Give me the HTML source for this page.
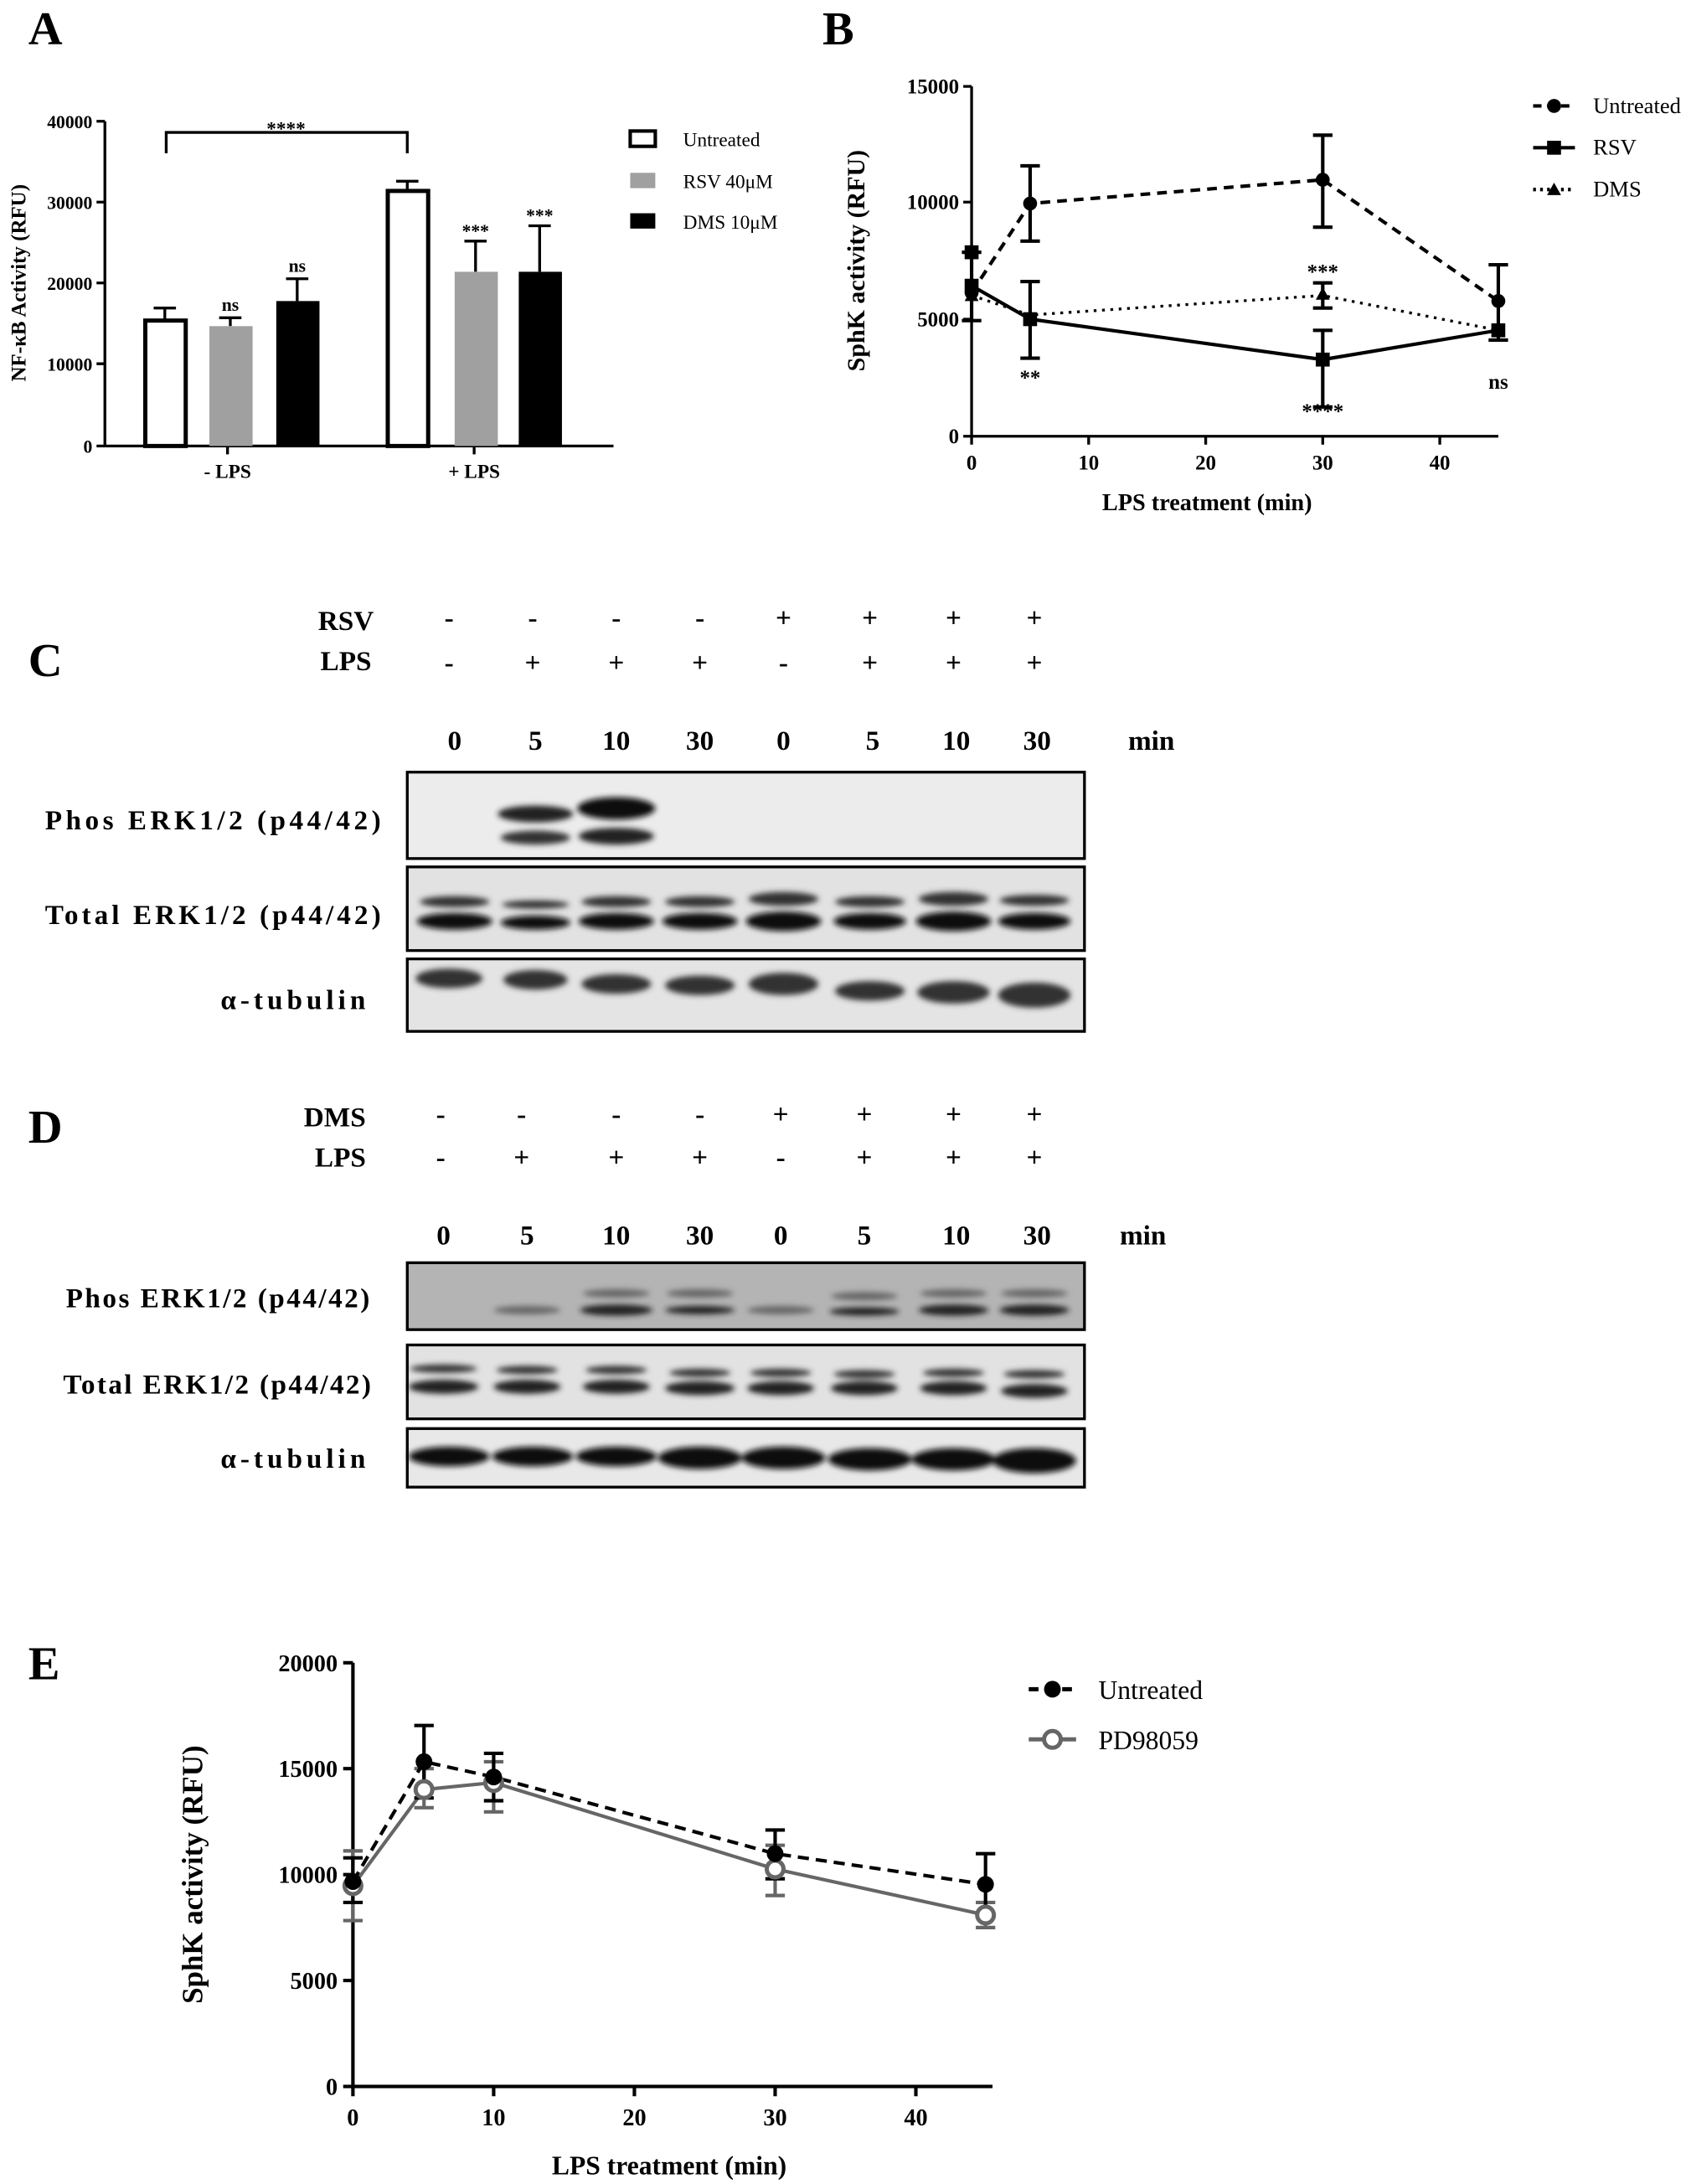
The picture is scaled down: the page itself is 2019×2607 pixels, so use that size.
<!DOCTYPE html>
<html><head><meta charset="utf-8"><style>
html,body{margin:0;padding:0;background:#fff;}
svg{display:block;}
text{font-family:"Liberation Serif",serif;fill:#000;}
</style></head><body>
<svg width="2019" height="2607" viewBox="0 0 1213 1567" xmlns="http://www.w3.org/2000/svg">
<defs>
<filter id="bl" x="-20%" y="-100%" width="140%" height="300%"><feGaussianBlur stdDeviation="2"/></filter>
</defs>
<g font-weight="bold">
<text x="20" y="32" font-size="34">A</text>
<text x="590" y="32" font-size="34">B</text>
<text x="20" y="485" font-size="34">C</text>
<text x="20" y="820" font-size="34">D</text>
<text x="20" y="1205" font-size="34">E</text>
</g>

<!-- Panel A -->
<g stroke="#000" stroke-width="2" fill="none">
<path d="M75 87 V320 H440"/>
<path d="M69 87H75M69 145H75M69 203H75M69 261H75M69 320H75"/>
<path d="M163 320v6M340 320v6"/>
<path d="M119 110V95H292V110"/>
</g>
<g font-size="13" font-weight="bold" text-anchor="end">
<text x="66" y="92">40000</text><text x="66" y="150">30000</text><text x="66" y="208">20000</text><text x="66" y="266">10000</text><text x="66" y="325">0</text>
</g>
<text transform="translate(18,203) rotate(-90)" font-size="15" font-weight="bold" text-anchor="middle">NF-κB Activity (RFU)</text>
<text x="163" y="343" font-size="14" font-weight="bold" text-anchor="middle">- LPS</text>
<text x="340" y="343" font-size="14" font-weight="bold" text-anchor="middle">+ LPS</text>
<text x="205" y="97" font-size="14" font-weight="bold" text-anchor="middle">****</text>
<g stroke="#000" stroke-width="2">
<path d="M118 230V221M110 221h16M165 234V228M157 228h16M213 216V200M205 200h16M292 137V130M284 130h16M341 195V173M333 173h16M387 195V162M379 162h16"/>
</g>
<rect x="104" y="230" width="29" height="90" fill="#fff" stroke="#000" stroke-width="3"/>
<rect x="150" y="234" width="31" height="86" fill="#a0a0a0"/>
<rect x="198" y="216" width="31" height="104" fill="#000"/>
<rect x="278" y="137" width="29" height="183" fill="#fff" stroke="#000" stroke-width="3"/>
<rect x="326" y="195" width="31" height="125" fill="#a0a0a0"/>
<rect x="372" y="195" width="31" height="125" fill="#000"/>
<g font-size="13" font-weight="bold" text-anchor="middle">
<text x="165" y="223">ns</text><text x="213" y="195">ns</text><text x="341" y="170">***</text><text x="387" y="159">***</text>
</g>
<rect x="452" y="94" width="18" height="11" fill="#fff" stroke="#000" stroke-width="2.5"/>
<rect x="452" y="124" width="18" height="11" fill="#a0a0a0"/>
<rect x="452" y="153" width="18" height="11" fill="#000"/>
<g font-size="14"><text x="490" y="105">Untreated</text><text x="490" y="135">RSV 40μM</text><text x="490" y="164">DMS 10μM</text></g>

<!-- Panel B -->
<g stroke="#000" stroke-width="2" fill="none">
<path d="M697 62V313H1075"/>
<path d="M691 62H697M691 145H697M691 229H697M691 313H697"/>
<path d="M697 313v6M781 313v6M865 313v6M949 313v6M1033 313v6"/>
</g>
<g font-size="15" font-weight="bold" text-anchor="end"><text x="688" y="67">15000</text><text x="688" y="150">10000</text><text x="688" y="234">5000</text><text x="688" y="318">0</text></g>
<g font-size="15" font-weight="bold" text-anchor="middle"><text x="697" y="337">0</text><text x="781" y="337">10</text><text x="865" y="337">20</text><text x="949" y="337">30</text><text x="1033" y="337">40</text></g>
<text x="866" y="366" font-size="17" font-weight="bold" text-anchor="middle">LPS treatment (min)</text>
<text transform="translate(620,187) rotate(-90)" font-size="18" font-weight="bold" text-anchor="middle">SphK activity (RFU)</text>
<g stroke="#000" stroke-width="2.5" fill="none">
<path d="M697 210L739 146L949 129L1075 216" stroke-dasharray="7,5"/>
<path d="M697 212L739 226L949 212L1075 237" stroke-dasharray="2,4" stroke-width="2"/>
<path d="M697 205L739 229L949 258L1075 237"/>
<path d="M739 119V173M732 119h14M732 173h14M949 97V163M942 97h14M942 163h14M1075 190V244M1068 190h14M1068 244h14M739 202V257M732 202h14M732 257h14M949 237V292M942 237h14M942 292h14M949 203V221M942 203h14M942 221h14M697 181V230M690 181h14M690 230h14"/>
</g>
<circle cx="739" cy="146" r="5"/><circle cx="949" cy="129" r="5"/><circle cx="1075" cy="216" r="5"/><circle cx="697" cy="210" r="5"/>
<rect x="692" y="176" width="10" height="10"/><rect x="692" y="200" width="10" height="10"/><rect x="734" y="224" width="10" height="10"/><rect x="944" y="253" width="10" height="10"/><rect x="1070" y="232" width="10" height="10"/>
<path d="M949 206l5 9h-10z M697 207l5 9h-10z"/>
<g font-size="15" font-weight="bold" text-anchor="middle"><text x="739" y="276">**</text><text x="949" y="300">****</text><text x="949" y="200">***</text><text x="1075" y="279">ns</text></g>
<g stroke="#000" stroke-width="2.5"><path d="M1100 76h30" stroke-dasharray="6,4"/><path d="M1100 106h30"/><path d="M1100 136h30" stroke-dasharray="2,3"/></g>
<circle cx="1115" cy="76" r="5"/><rect x="1110" y="101" width="10" height="10"/><path d="M1115 131l5 9h-10z"/>
<g font-size="16"><text x="1143" y="81">Untreated</text><text x="1143" y="111">RSV</text><text x="1143" y="141">DMS</text></g>

<!-- Panel C -->
<g font-size="20" font-weight="bold" text-anchor="middle">
<text x="248" y="452">RSV</text><text x="248" y="481">LPS</text>
<text x="322" y="450">-</text><text x="382" y="450">-</text><text x="442" y="450">-</text><text x="502" y="450">-</text><text x="562" y="450">+</text><text x="624" y="450">+</text><text x="684" y="450">+</text><text x="742" y="450">+</text>
<text x="322" y="482">-</text><text x="382" y="482">+</text><text x="442" y="482">+</text><text x="502" y="482">+</text><text x="562" y="482">-</text><text x="624" y="482">+</text><text x="684" y="482">+</text><text x="742" y="482">+</text>
<text x="326" y="538">0</text><text x="384" y="538">5</text><text x="442" y="538">10</text><text x="502" y="538">30</text><text x="562" y="538">0</text><text x="626" y="538">5</text><text x="686" y="538">10</text><text x="744" y="538">30</text><text x="826" y="538">min</text>
</g>
<g font-size="20" font-weight="bold">
<text x="32" y="595" textLength="241" lengthAdjust="spacing">Phos  ERK1/2  (p44/42)</text>
<text x="32" y="663" textLength="241" lengthAdjust="spacing">Total  ERK1/2  (p44/42)</text>
<text x="158" y="724" textLength="104" lengthAdjust="spacing">α-tubulin</text></g>
<rect x="292" y="554" width="486" height="62" fill="#ececec" stroke="#000" stroke-width="2"/>
<rect x="292" y="622" width="486" height="60" fill="#e2e2e2" stroke="#000" stroke-width="2"/>
<rect x="292" y="688" width="486" height="52" fill="#e4e4e4" stroke="#000" stroke-width="2"/>
<g filter="url(#bl)" fill="#111">
<ellipse cx="384" cy="584" rx="27" ry="6" fill="#222"/><ellipse cx="384" cy="601" rx="25" ry="5" fill="#333"/>
<ellipse cx="442" cy="580" rx="28" ry="8"/><ellipse cx="442" cy="600" rx="27" ry="6" fill="#222"/>
<g fill="#333"><ellipse cx="326" cy="647" rx="25" ry="4"/><ellipse cx="384" cy="649" rx="24" ry="3"/><ellipse cx="442" cy="647" rx="25" ry="4"/><ellipse cx="502" cy="647" rx="25" ry="4"/><ellipse cx="562" cy="645" rx="25" ry="5"/><ellipse cx="624" cy="647" rx="25" ry="4"/><ellipse cx="684" cy="645" rx="25" ry="5"/><ellipse cx="742" cy="646" rx="25" ry="4"/></g>
<ellipse cx="326" cy="661" rx="27" ry="6"/><ellipse cx="384" cy="662" rx="25" ry="5"/><ellipse cx="442" cy="661" rx="27" ry="6"/><ellipse cx="502" cy="661" rx="27" ry="6"/><ellipse cx="562" cy="661" rx="27" ry="7"/><ellipse cx="624" cy="661" rx="26" ry="6"/><ellipse cx="684" cy="661" rx="27" ry="7"/><ellipse cx="742" cy="661" rx="26" ry="6"/>
<g fill="#333"><ellipse cx="322" cy="702" rx="24" ry="7"/><ellipse cx="384" cy="703" rx="23" ry="7"/><ellipse cx="442" cy="706" rx="25" ry="7"/><ellipse cx="502" cy="707" rx="25" ry="7"/><ellipse cx="562" cy="706" rx="25" ry="8"/><ellipse cx="624" cy="711" rx="25" ry="7"/><ellipse cx="684" cy="712" rx="26" ry="8"/><ellipse cx="742" cy="714" rx="26" ry="9"/></g>
</g>

<!-- Panel D -->
<g font-size="20" font-weight="bold" text-anchor="middle">
<text x="240" y="808">DMS</text><text x="244" y="837">LPS</text>
<text x="316" y="806">-</text><text x="374" y="806">-</text><text x="442" y="806">-</text><text x="502" y="806">-</text><text x="560" y="806">+</text><text x="620" y="806">+</text><text x="684" y="806">+</text><text x="742" y="806">+</text>
<text x="316" y="837">-</text><text x="374" y="837">+</text><text x="442" y="837">+</text><text x="502" y="837">+</text><text x="560" y="837">-</text><text x="620" y="837">+</text><text x="684" y="837">+</text><text x="742" y="837">+</text>
<text x="318" y="893">0</text><text x="378" y="893">5</text><text x="442" y="893">10</text><text x="502" y="893">30</text><text x="560" y="893">0</text><text x="620" y="893">5</text><text x="686" y="893">10</text><text x="744" y="893">30</text><text x="820" y="893">min</text>
</g>
<g font-size="20" font-weight="bold">
<text x="47" y="938" textLength="218" lengthAdjust="spacing">Phos ERK1/2 (p44/42)</text>
<text x="45" y="1000" textLength="221" lengthAdjust="spacing">Total ERK1/2 (p44/42)</text>
<text x="158" y="1053" textLength="104" lengthAdjust="spacing">α-tubulin</text></g>
<rect x="292" y="906" width="486" height="48" fill="#b4b4b4" stroke="#000" stroke-width="2"/>
<rect x="292" y="965" width="486" height="53" fill="#e2e2e2" stroke="#000" stroke-width="2"/>
<rect x="292" y="1025" width="486" height="42" fill="#e8e8e8" stroke="#000" stroke-width="2"/>
<g filter="url(#bl)" fill="#222">
<g fill="#666"><ellipse cx="378" cy="940" rx="24" ry="3"/><ellipse cx="442" cy="928" rx="24" ry="3"/><ellipse cx="502" cy="928" rx="24" ry="3"/><ellipse cx="620" cy="930" rx="24" ry="3"/><ellipse cx="684" cy="928" rx="24" ry="3"/><ellipse cx="742" cy="928" rx="24" ry="3"/><ellipse cx="560" cy="940" rx="24" ry="3"/></g>
<ellipse cx="442" cy="940" rx="26" ry="4"/><ellipse cx="502" cy="940" rx="25" ry="3"/><ellipse cx="620" cy="941" rx="25" ry="3"/><ellipse cx="684" cy="940" rx="25" ry="4"/><ellipse cx="742" cy="940" rx="25" ry="4"/>
<g fill="#333"><ellipse cx="318" cy="982" rx="24" ry="3"/><ellipse cx="378" cy="983" rx="22" ry="3"/><ellipse cx="442" cy="983" rx="22" ry="3"/><ellipse cx="502" cy="985" rx="22" ry="3"/><ellipse cx="560" cy="985" rx="22" ry="3"/><ellipse cx="620" cy="986" rx="22" ry="3"/><ellipse cx="684" cy="985" rx="22" ry="3"/><ellipse cx="742" cy="986" rx="22" ry="3"/></g>
<ellipse cx="318" cy="995" rx="25" ry="5"/><ellipse cx="378" cy="995" rx="24" ry="5"/><ellipse cx="442" cy="995" rx="24" ry="5"/><ellipse cx="502" cy="996" rx="25" ry="5"/><ellipse cx="560" cy="996" rx="24" ry="5"/><ellipse cx="620" cy="996" rx="24" ry="5"/><ellipse cx="684" cy="996" rx="24" ry="5"/><ellipse cx="742" cy="998" rx="24" ry="5"/>
<g fill="#111"><ellipse cx="322" cy="1045" rx="29" ry="7"/><ellipse cx="382" cy="1045" rx="29" ry="7"/><ellipse cx="442" cy="1045" rx="29" ry="7"/><ellipse cx="502" cy="1046" rx="30" ry="8"/><ellipse cx="562" cy="1046" rx="30" ry="8"/><ellipse cx="624" cy="1047" rx="30" ry="8"/><ellipse cx="684" cy="1047" rx="30" ry="8"/><ellipse cx="742" cy="1048" rx="30" ry="9"/></g>
</g>

<!-- Panel E -->
<g stroke="#000" stroke-width="2.5" fill="none">
<path d="M253 1193V1497H712"/>
<path d="M246 1193H253M246 1269H253M246 1345H253M246 1421H253M246 1497H253"/>
<path d="M253 1497v7M354 1497v7M455 1497v7M556 1497v7M657 1497v7"/>
</g>
<g font-size="17" font-weight="bold" text-anchor="end"><text x="242" y="1199">20000</text><text x="242" y="1275">15000</text><text x="242" y="1351">10000</text><text x="242" y="1427">5000</text><text x="242" y="1503">0</text></g>
<g font-size="17" font-weight="bold" text-anchor="middle"><text x="253" y="1525">0</text><text x="354" y="1525">10</text><text x="455" y="1525">20</text><text x="556" y="1525">30</text><text x="657" y="1525">40</text></g>
<text x="480" y="1560" font-size="19" font-weight="bold" text-anchor="middle">LPS treatment (min)</text>
<text transform="translate(145,1345) rotate(-90)" font-size="21" font-weight="bold" text-anchor="middle">SphK activity (RFU)</text>
<g stroke="#666" stroke-width="2.5" fill="none">
<path d="M253 1353L304 1284L354 1279L556 1341L707 1374"/>
<path d="M253 1328V1378M246 1328h14M246 1378h14M304 1269V1297M297 1269h14M297 1297h14M354 1264V1300M347 1264h14M347 1300h14M556 1324V1360M549 1324h14M549 1360h14M707 1365V1383M700 1365h14M700 1383h14"/>
</g>
<g stroke="#000" stroke-width="2.5" fill="none">
<path d="M253 1350L304 1264L354 1275L556 1330L707 1352" stroke-dasharray="8,5"/>
<path d="M253 1333V1365M246 1333h14M246 1365h14M304 1238V1290M297 1238h14M297 1290h14M354 1258V1292M347 1258h14M347 1292h14M556 1313V1348M549 1313h14M549 1348h14M707 1330V1374M700 1330h14M700 1374h14"/>
</g>
<g fill="#fff" stroke="#666" stroke-width="3"><circle cx="253" cy="1353" r="6"/><circle cx="304" cy="1284" r="6"/><circle cx="354" cy="1279" r="6"/><circle cx="556" cy="1341" r="6"/><circle cx="707" cy="1374" r="6"/></g>
<g fill="#000"><circle cx="253" cy="1350" r="6"/><circle cx="304" cy="1264" r="6"/><circle cx="354" cy="1275" r="6"/><circle cx="556" cy="1330" r="6"/><circle cx="707" cy="1352" r="6"/></g>
<path d="M738 1212h34" stroke="#000" stroke-width="3" stroke-dasharray="7,5"/><circle cx="755" cy="1212" r="6"/>
<path d="M738 1248h34" stroke="#666" stroke-width="3"/><circle cx="755" cy="1248" r="6" fill="#fff" stroke="#666" stroke-width="3"/>
<g font-size="19"><text x="788" y="1219">Untreated</text><text x="788" y="1255">PD98059</text></g>
</svg>
</body></html>
